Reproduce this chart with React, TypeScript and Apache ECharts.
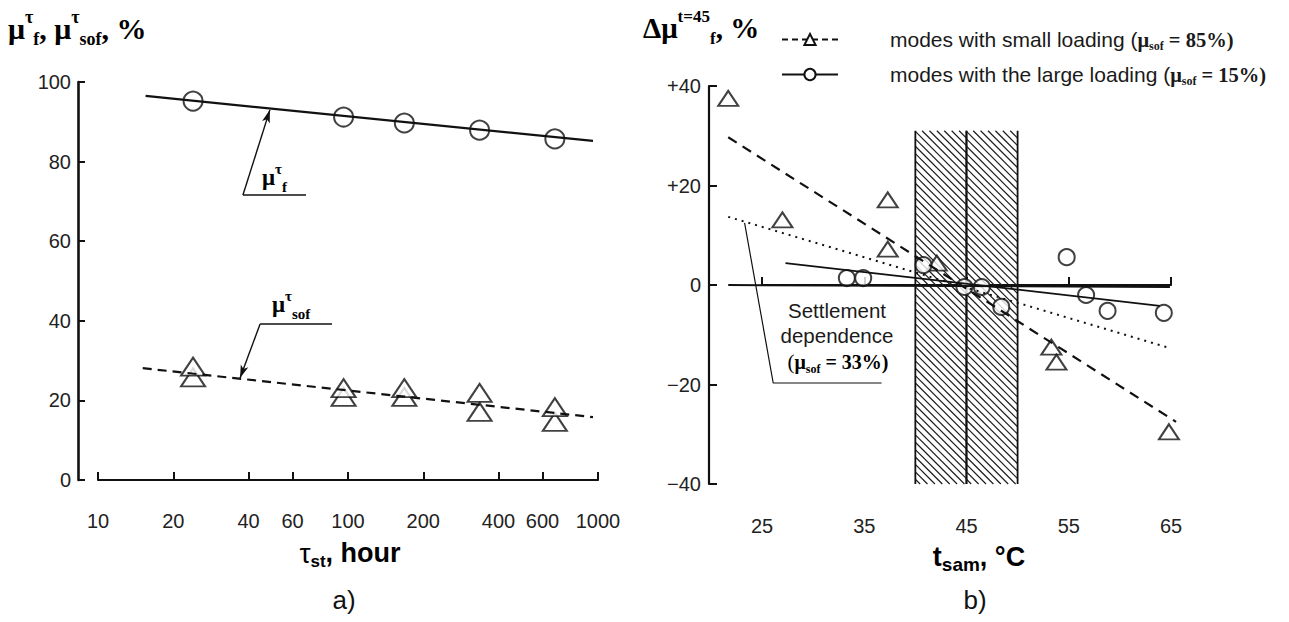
import React, { useEffect, useRef } from "react";
import * as echarts from "echarts";

// ---------- panel a) ----------
const hours = [24, 96, 168, 336, 672];
const muF = [95.2, 91.2, 89.7, 87.9, 85.7];
const muSofUpper = [28.5, 23.1, 23.1, 21.9, 18.3];
const muSofLower = [25.8, 20.9, 20.9, 17.1, 14.6];
const muFFit = [[15.5, 96.5], [955, 85.2]];
const muSofFit = [[15.1, 28.1], [955, 15.8]];
const hourTicks = [10, 20, 40, 60, 100, 200, 400, 600, 1000];
const muFLeader = [[67.9, 71.6], [38, 71.6], [48.7, 93]];
const muSofLeader = [[86.3, 39.2], [44.5, 39.2], [37, 25.6]];

// ---------- panel b) ----------
const tempSmall = [21.7, 27.0, 37.3, 37.3, 42.1, 53.3, 53.8, 64.8];
const devSmall = [37.5, 13.1, 17.1, 7.2, 4.4, -12.5, -15.5, -29.5];
const tempLarge = [33.3, 34.9, 40.8, 44.8, 46.5, 48.4, 54.8, 56.7, 58.8, 64.3];
const devLarge = [1.4, 1.4, 4.0, -0.4, -0.4, -4.4, 5.6, -2.0, -5.2, -5.6];
const smallFit = [[21.7, 29.7], [65.5, -27.5]];
const largeFit = [[27.3, 4.4], [63.9, -4.2]];
const settlementFit = [[21.7, 13.7], [64.6, -12.5]];
const zeroLine = [[21.7, 0], [64.9, -0.4]];
const settlementLeader = [[23.3, 12.5], [26.1, -19.7], [36.7, -19.7]];
const hatchBands = [[40, 45], [45, 50]];
const hatchTop = 31;
const hatchBottom = -40;
const tempTicks = [25, 35, 45, 55, 65];
const tempMin = 19.82;
const tempMax = 66;

const INK = "#111";
const NARROW = "'Liberation Sans Narrow', 'Arial Narrow', 'Liberation Sans', Arial, sans-serif";
const SANS = "'Liberation Sans', Arial, sans-serif";
const SERIF = "'Liberation Serif', 'Times New Roman', serif";
const lg = (v: number) => Math.log10(v);

const serifRich = (size: number, small: number) => ({
  m: { fontFamily: SERIF, fontWeight: "bold", fontSize: size, color: INK, lineHeight: size + 10 },
  sup: { fontFamily: SERIF, fontWeight: "bold", fontSize: small, color: INK, verticalAlign: "top", lineHeight: size + 10 },
  sub: { fontFamily: SERIF, fontWeight: "bold", fontSize: small, color: INK, verticalAlign: "bottom", lineHeight: size + 10 },
});

export default function App() {
  const ref = useRef<HTMLDivElement>(null);
  useEffect(() => {
    if (!ref.current) return;
    const chart = echarts.init(ref.current, null, { renderer: "svg" });

    const hatchRender = (params: any, api: any) => {
      const p0 = api.coord([api.value(0), hatchTop]);
      const p1 = api.coord([api.value(1), hatchBottom]);
      const x0 = p0[0], y0 = p0[1], x1 = p1[0], y1 = p1[1];
      const children: any[] = [];
      const s = 7.4;
      for (let c = y0 - x1; c <= y1 - x0; c += s) {
        const sx = Math.max(x0, y0 - c);
        const ex = Math.min(x1, y1 - c);
        if (ex > sx) {
          children.push({ type: "line", shape: { x1: sx, y1: sx + c, x2: ex, y2: ex + c }, style: { stroke: "#1c1c1c", lineWidth: 1.2 } });
        }
      }
      children.push({ type: "line", shape: { x1: x0, y1: y0, x2: x0, y2: y1 }, style: { stroke: INK, lineWidth: 1.8 } });
      children.push({ type: "line", shape: { x1: x1, y1: y0, x2: x1, y2: y1 }, style: { stroke: INK, lineWidth: 1.8 } });
      return { type: "group", children };
    };

    const axisLine = (w: number) => ({ show: true, lineStyle: { color: INK, width: w } });
    const labelStyle = (size: number) => ({ fontFamily: NARROW, fontSize: size, color: "#222" });
    const openSym = { color: "#fff", borderColor: INK, borderWidth: 2 };
    const bx = { xAxisIndex: 1, yAxisIndex: 1 };

    chart.setOption({
      animation: false,
      backgroundColor: "#fff",
      grid: [
        { left: 98, right: 691, top: 82, bottom: 142 },
        { left: 709, right: 107.8, top: 86, bottom: 138 },
        { left: 762, right: 118, top: 86, bottom: 138 },
      ],
      xAxis: [
        {
          gridIndex: 0, type: "value", min: 1, max: 3, offset: 20,
          axisLine: axisLine(2.2),
          axisTick: { show: true, inside: true, length: 8, customValues: hourTicks.map(lg), lineStyle: { color: INK, width: 2 } },
          axisLabel: { ...labelStyle(20), margin: 11, customValues: hourTicks.map(lg), formatter: (v: number) => String(Math.round(Math.pow(10, v))) },
          splitLine: { show: false },
        },
        { gridIndex: 1, type: "value", min: tempMin, max: tempMax, show: false },
        {
          gridIndex: 2, type: "value", min: 25, max: 65, offset: 23,
          axisLine: axisLine(2.2),
          axisTick: { show: true, inside: true, length: 8, customValues: tempTicks, lineStyle: { color: INK, width: 2 } },
          axisLabel: { ...labelStyle(20), margin: 9, customValues: tempTicks },
          splitLine: { show: false },
        },
      ],
      yAxis: [
        {
          gridIndex: 0, type: "value", min: 0, max: 100, interval: 20, offset: 20,
          axisLine: axisLine(2.6),
          axisTick: { show: true, inside: true, length: 7, lineStyle: { color: INK, width: 2 } },
          axisLabel: { ...labelStyle(20), margin: 7 },
          splitLine: { show: false },
        },
        {
          gridIndex: 1, type: "value", min: -40, max: 40, interval: 20,
          axisLine: axisLine(2.2),
          axisTick: { show: true, inside: true, length: 8, lineStyle: { color: INK, width: 2 } },
          axisLabel: {
            ...labelStyle(20), margin: 8,
            formatter: (v: number) => (v > 0 ? "+" + v : v < 0 ? "\u2212" + Math.abs(v) : "0"),
          },
          splitLine: { show: false },
        },
        { gridIndex: 2, type: "value", min: -40, max: 40, show: false },
      ],
      legend: {
        orient: "vertical", left: 776, top: 24, itemWidth: 56, itemHeight: 14, itemGap: 12,
        selectedMode: false,
        data: ["small", "large"],
        formatter: (name: string) =>
          name === "small"
            ? "{a|modes with small loading (}{m|μ}{s|sof}{e| = 85%)}"
            : "{a|modes with the large loading (}{m|μ}{s|sof}{e| = 15%)}",
        textStyle: {
          padding: [0, 0, 0, 47],
          rich: {
            a: { fontFamily: SANS, fontSize: 21, color: "#1a1a1a", lineHeight: 25 },
            m: { fontFamily: SERIF, fontWeight: "bold", fontSize: 20.5, color: "#1a1a1a", lineHeight: 25 },
            s: { fontFamily: SERIF, fontWeight: "bold", fontSize: 12, color: "#1a1a1a", verticalAlign: "bottom", lineHeight: 25 },
            e: { fontFamily: SERIF, fontWeight: "bold", fontSize: 20.5, color: "#1a1a1a", lineHeight: 25 },
          },
        },
      },
      series: [
        // ----- panel a -----
        {
          type: "line", xAxisIndex: 0, yAxisIndex: 0, symbol: "none", silent: true,
          data: muFFit.map(([h, v]) => [lg(h), v]),
          lineStyle: { color: INK, width: 2.2 },
        },
        {
          type: "line", xAxisIndex: 0, yAxisIndex: 0, symbol: "none", silent: true,
          data: muSofFit.map(([h, v]) => [lg(h), v]),
          lineStyle: { color: INK, width: 2.2, type: [9, 6] },
        },
        {
          type: "line", xAxisIndex: 0, yAxisIndex: 0, symbol: "none", silent: true,
          data: muFLeader.slice(0, 2).map(([h, v]) => [lg(h), v]),
          lineStyle: { color: INK, width: 1.4 },
          markLine: {
            silent: true, symbol: ["none", "arrow"], symbolSize: [6, 13], label: { show: false },
            lineStyle: { color: INK, width: 1.4, type: "solid" },
            data: [[{ coord: [lg(muFLeader[1][0]), muFLeader[1][1]] }, { coord: [lg(muFLeader[2][0]), muFLeader[2][1]] }]],
          },
        },
        {
          type: "line", xAxisIndex: 0, yAxisIndex: 0, symbol: "none", silent: true,
          data: muSofLeader.slice(0, 2).map(([h, v]) => [lg(h), v]),
          lineStyle: { color: INK, width: 1.4 },
          markLine: {
            silent: true, symbol: ["none", "arrow"], symbolSize: [6, 13], label: { show: false },
            lineStyle: { color: INK, width: 1.4, type: "solid" },
            data: [[{ coord: [lg(muSofLeader[1][0]), muSofLeader[1][1]] }, { coord: [lg(muSofLeader[2][0]), muSofLeader[2][1]] }]],
          },
        },
        {
          type: "scatter", xAxisIndex: 0, yAxisIndex: 0, symbol: "circle", symbolSize: 19, silent: true,
          data: hours.map((h, i) => [lg(h), muF[i]]), itemStyle: openSym,
        },
        {
          type: "scatter", xAxisIndex: 0, yAxisIndex: 0, symbol: "triangle", symbolSize: [24, 18], silent: true,
          data: hours.map((h, i) => [lg(h), muSofLower[i]]), itemStyle: openSym,
        },
        {
          type: "scatter", xAxisIndex: 0, yAxisIndex: 0, symbol: "triangle", symbolSize: [24, 18], silent: true,
          data: hours.map((h, i) => [lg(h), muSofUpper[i]]), itemStyle: openSym,
        },
        // ----- panel b -----
        { type: "custom", ...bx, silent: true, renderItem: hatchRender, encode: { x: [0, 1] }, data: hatchBands },
        { type: "line", ...bx, symbol: "none", silent: true, data: zeroLine, lineStyle: { color: INK, width: 2 } },
        { type: "line", ...bx, symbol: "none", silent: true, data: largeFit, lineStyle: { color: INK, width: 1.8 } },
        { type: "line", ...bx, symbol: "none", silent: true, data: smallFit, lineStyle: { color: INK, width: 2.2, type: [10, 7] } },
        { type: "line", ...bx, symbol: "none", silent: true, data: settlementFit, lineStyle: { color: INK, width: 2, type: [2, 5] } },
        { type: "line", ...bx, symbol: "none", silent: true, data: settlementLeader, lineStyle: { color: INK, width: 1.2 } },
        {
          type: "scatter", ...bx, symbol: "triangle", symbolSize: [20, 15], silent: true,
          data: tempSmall.map((t, i) => [t, devSmall[i]]), itemStyle: openSym,
        },
        {
          type: "scatter", ...bx, symbol: "circle", symbolSize: 16, silent: true,
          data: tempLarge.map((t, i) => [t, devLarge[i]]), itemStyle: openSym,
        },
        // legend entries
        {
          name: "small", type: "line", ...bx, data: [], symbol: "triangle", symbolSize: [14, 12],
          lineStyle: { color: INK, width: 2, type: [6, 4] }, itemStyle: openSym,
        },
        {
          name: "large", type: "line", ...bx, data: [], symbol: "circle", symbolSize: 13,
          lineStyle: { color: INK, width: 2 }, itemStyle: openSym,
        },
      ],
      graphic: [
        { type: "text", left: 8, top: 8, style: { text: "{m|μ}{sup|τ}{sub|f}{m|, μ}{sup|τ}{sub|sof}{m|, %}", rich: serifRich(30, 18) } },
        { type: "text", left: 643, top: 8, style: { text: "{m|Δμ}{sup|t=45}{sub|f}{m|, %}", rich: serifRich(29, 17) } },
        { type: "text", left: 262, top: 161, style: { text: "{m|μ}{sup|τ}{sub|f}", rich: serifRich(23, 15) } },
        { type: "text", left: 272, top: 288, style: { text: "{m|μ}{sup|τ}{sub|sof}", rich: serifRich(23, 15) } },
        {
          type: "text", x: 350, y: 553,
          style: {
            text: "{t|τ}{sub|st}{b|, hour}", textAlign: "center", textVerticalAlign: "middle",
            rich: {
              t: { fontFamily: SANS, fontSize: 28, color: INK, lineHeight: 34 },
              sub: { fontFamily: SANS, fontWeight: "bold", fontSize: 17, color: INK, verticalAlign: "bottom", lineHeight: 34 },
              b: { fontFamily: SANS, fontWeight: "bold", fontSize: 27, color: INK, lineHeight: 34 },
            },
          },
        },
        {
          type: "text", x: 979, y: 557,
          style: {
            text: "{b|t}{sub|sam}{b|, °C}", textAlign: "center", textVerticalAlign: "middle",
            rich: {
              sub: { fontFamily: SANS, fontWeight: "bold", fontSize: 19, color: INK, verticalAlign: "bottom", lineHeight: 34 },
              b: { fontFamily: SANS, fontWeight: "bold", fontSize: 27, color: INK, lineHeight: 34 },
            },
          },
        },
        { type: "text", x: 344, y: 600, style: { text: "a)", fontFamily: SANS, fontSize: 26, fill: INK, textAlign: "center", textVerticalAlign: "middle" } },
        { type: "text", x: 975, y: 600, style: { text: "b)", fontFamily: SANS, fontSize: 26, fill: INK, textAlign: "center", textVerticalAlign: "middle" } },
        { type: "text", x: 837, y: 310, style: { text: "Settlement", fontFamily: SANS, fontSize: 20.5, fill: "#1a1a1a", textAlign: "center", textVerticalAlign: "middle" } },
        { type: "text", x: 837, y: 335, style: { text: "dependence", fontFamily: SANS, fontSize: 20.5, fill: "#1a1a1a", textAlign: "center", textVerticalAlign: "middle" } },
        {
          type: "text", x: 838, y: 362,
          style: {
            text: "{p|(}{m|μ}{s|sof}{e| = 33%)}", textAlign: "center", textVerticalAlign: "middle",
            rich: {
              p: { fontFamily: SERIF, fontSize: 21, color: "#1a1a1a", lineHeight: 26 },
              m: { fontFamily: SERIF, fontWeight: "bold", fontSize: 20, color: "#1a1a1a", lineHeight: 26 },
              s: { fontFamily: SERIF, fontWeight: "bold", fontSize: 12, color: "#1a1a1a", verticalAlign: "bottom", lineHeight: 26 },
              e: { fontFamily: SERIF, fontWeight: "bold", fontSize: 20, color: "#1a1a1a", lineHeight: 26 },
            },
          },
        },
      ],
    });
    return () => chart.dispose();
  }, []);
  return <div ref={ref} style={{ position: "fixed", left: 0, top: 0, width: 1289, height: 622, background: "#fff" }} />;
}
